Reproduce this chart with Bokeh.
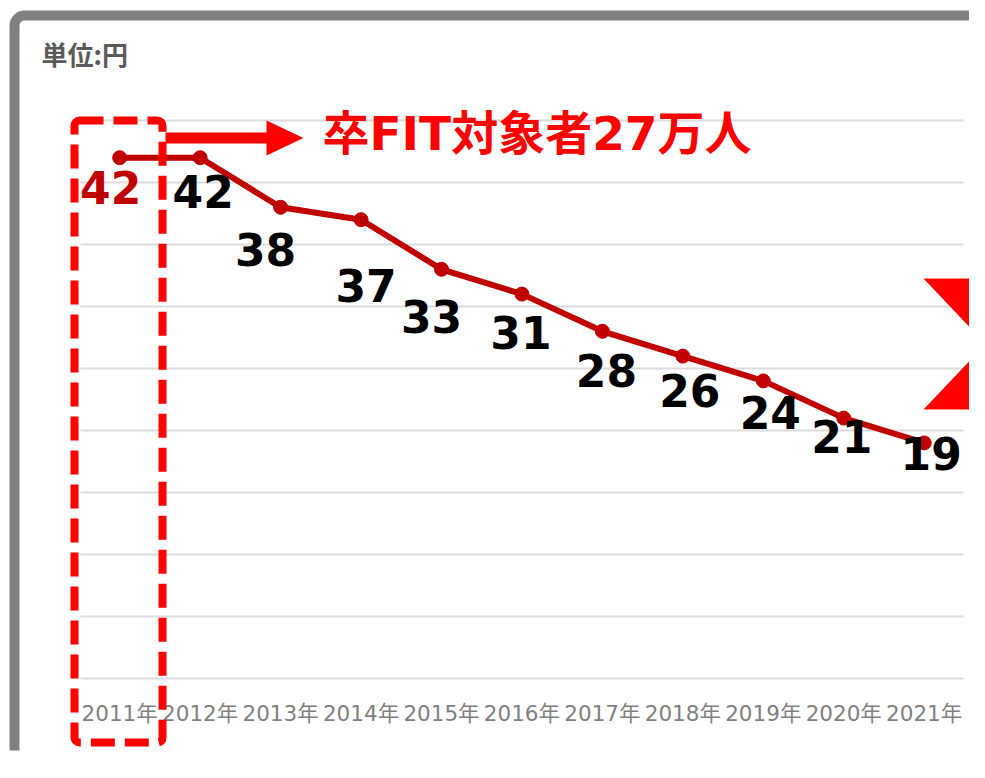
from bokeh.plotting import figure
from bokeh.models import (ColumnDataSource, Range1d, Grid, FixedTicker,
                          BoxAnnotation, PolyAnnotation, Label)
from bokeh.core.properties import value
from bokeh.embed import file_html
from bokeh.resources import INLINE

# ---- data ----
year_nums = [2011, 2012, 2013, 2014, 2015, 2016, 2017, 2018, 2019, 2020, 2021]
year_labels = ["2011年", "2012年", "2013年", "2014年", "2015年", "2016年",
               "2017年", "2018年", "2019年", "2020年", "2021年"]
prices = [42, 42, 38, 37, 33, 31, 28, 26, 24, 21, 19]
price_labels = ["42", "42", "38", "37", "33", "31", "28", "26", "24", "21", "19"]
y_ticks = [0, 5, 10, 15, 20, 25, 30, 35, 40, 45]
unit_text = "単位:円"
headline = "卒FIT対象者27万人"

# ---- label styling (screen offsets in px) ----
label_dx = [-9, 3, -15, 5, -10, -1, 4, 7, 7, -2, 7]
label_dy = [30, 34, 42, 66, 47, 38, 39, 34, 32, 18, 11]
label_colors = ["#c00000"] + ["#000000"] * 10

W, H = 969, 762
FRAME_BOTTOM = 750            # canvas px
X_FIRST_PX, X_STEP_PX = 119.2, 80.45   # px of first year, px per year
Y0_PX, PX_PER_UNIT = 678.0, 12.4       # px of y=0, px per unit


def dx(px):
    return year_nums[0] + (px - X_FIRST_PX) / X_STEP_PX


def dy(py):
    return (Y0_PX - py) / PX_PER_UNIT


p = figure(width=W, height=H, output_backend="svg", toolbar_location=None,
           x_range=Range1d(dx(0), dx(W)), y_range=Range1d(dy(FRAME_BOTTOM), dy(0)),
           y_axis_location=None, title=None,
           min_border_left=0, min_border_right=0, min_border_top=0,
           min_border_bottom=H - FRAME_BOTTOM)
p.outline_line_color = None
p.background_fill_color = "white"
p.border_fill_color = "white"
p.xgrid.visible = False
p.ygrid.visible = False

grid_kw = dict(dimension=1, ticker=FixedTicker(ticks=y_ticks),
               grid_line_color="#dcdcdc", grid_line_width=2)
if "cross_bounds" in Grid.properties():
    p.add_layout(Grid(cross_bounds=(dx(80), dx(963)), **grid_kw))
else:
    p.segment(x0=[dx(80)] * len(y_ticks), x1=[dx(963)] * len(y_ticks),
              y0=y_ticks, y1=y_ticks, line_color="#dcdcdc", line_width=2)

ax = p.xaxis[0]
ax.ticker = FixedTicker(ticks=year_nums)
ax.major_label_overrides = {y: l for y, l in zip(year_nums, year_labels)}
ax.axis_line_color = None
ax.major_tick_line_color = None
ax.minor_tick_line_color = None
ax.major_tick_out = 0
ax.major_tick_in = 0
ax.minor_tick_out = 0
ax.major_label_standoff = -50
ax.major_label_text_font = "DejaVu Sans, Noto Sans CJK JP"
ax.major_label_text_font_size = "21.5px"
ax.major_label_text_color = "#7f7f7f"

src = ColumnDataSource(dict(x=year_nums, y=prices, lab=price_labels,
                            dxo=label_dx, dyo=label_dy, col=label_colors))

# frame border (gray)
p.add_layout(BoxAnnotation(left=dx(14), right=dx(1000), top=dy(15), bottom=dy(780),
                           fill_alpha=0, line_color="#808080", line_alpha=1,
                           line_width=10, border_radius=10))

# dashed highlight box
p.add_layout(BoxAnnotation(left=dx(74), right=dx(162), top=dy(120), bottom=dy(742),
                           fill_alpha=0, line_color="#ff0000", line_alpha=1,
                           line_width=8, line_dash="24 10", border_radius=5))

p.line("x", "y", source=src, line_color="#c00000", line_width=6)
p.scatter("x", "y", source=src, size=14, fill_color="#c00000", line_color="#c00000")
p.text("x", "y", text="lab", source=src, x_offset="dxo", y_offset="dyo",
       text_color="col", text_font=value("DejaVu Sans"), text_font_style="bold",
       text_font_size="44px", text_align="center", text_baseline="middle")

# arrow
ax_px = [165, 266, 266, 303, 266, 266, 165]
ay_px = [132, 132, 120, 137.5, 155, 143, 143]
p.add_layout(PolyAnnotation(xs=[dx(v) for v in ax_px], ys=[dy(v) for v in ay_px],
                            fill_color="#ff0000", fill_alpha=1, line_color=None))

# right chevron
cx_px = [923, 995, 995, 923, 985]
cy_px = [278, 278, 409, 409, 343.5]
p.add_layout(PolyAnnotation(xs=[dx(v) for v in cx_px], ys=[dy(v) for v in cy_px],
                            fill_color="#ff0000", fill_alpha=1, line_color=None))

p.add_layout(Label(x=dx(322), y=dy(133), text=headline, text_color="#ff0000",
                   text_font="DejaVu Sans, Noto Sans CJK JP", text_font_style="bold",
                   text_font_size="47px", text_align="left", text_baseline="middle"))
p.add_layout(Label(x=dx(41), y=dy(53), text=unit_text, text_color="#5a5a5a",
                   text_font="Noto Sans CJK JP", text_font_style="bold",
                   text_font_size="26px", text_align="left", text_baseline="middle"))

open("out.html", "w").write(file_html(p, INLINE))
